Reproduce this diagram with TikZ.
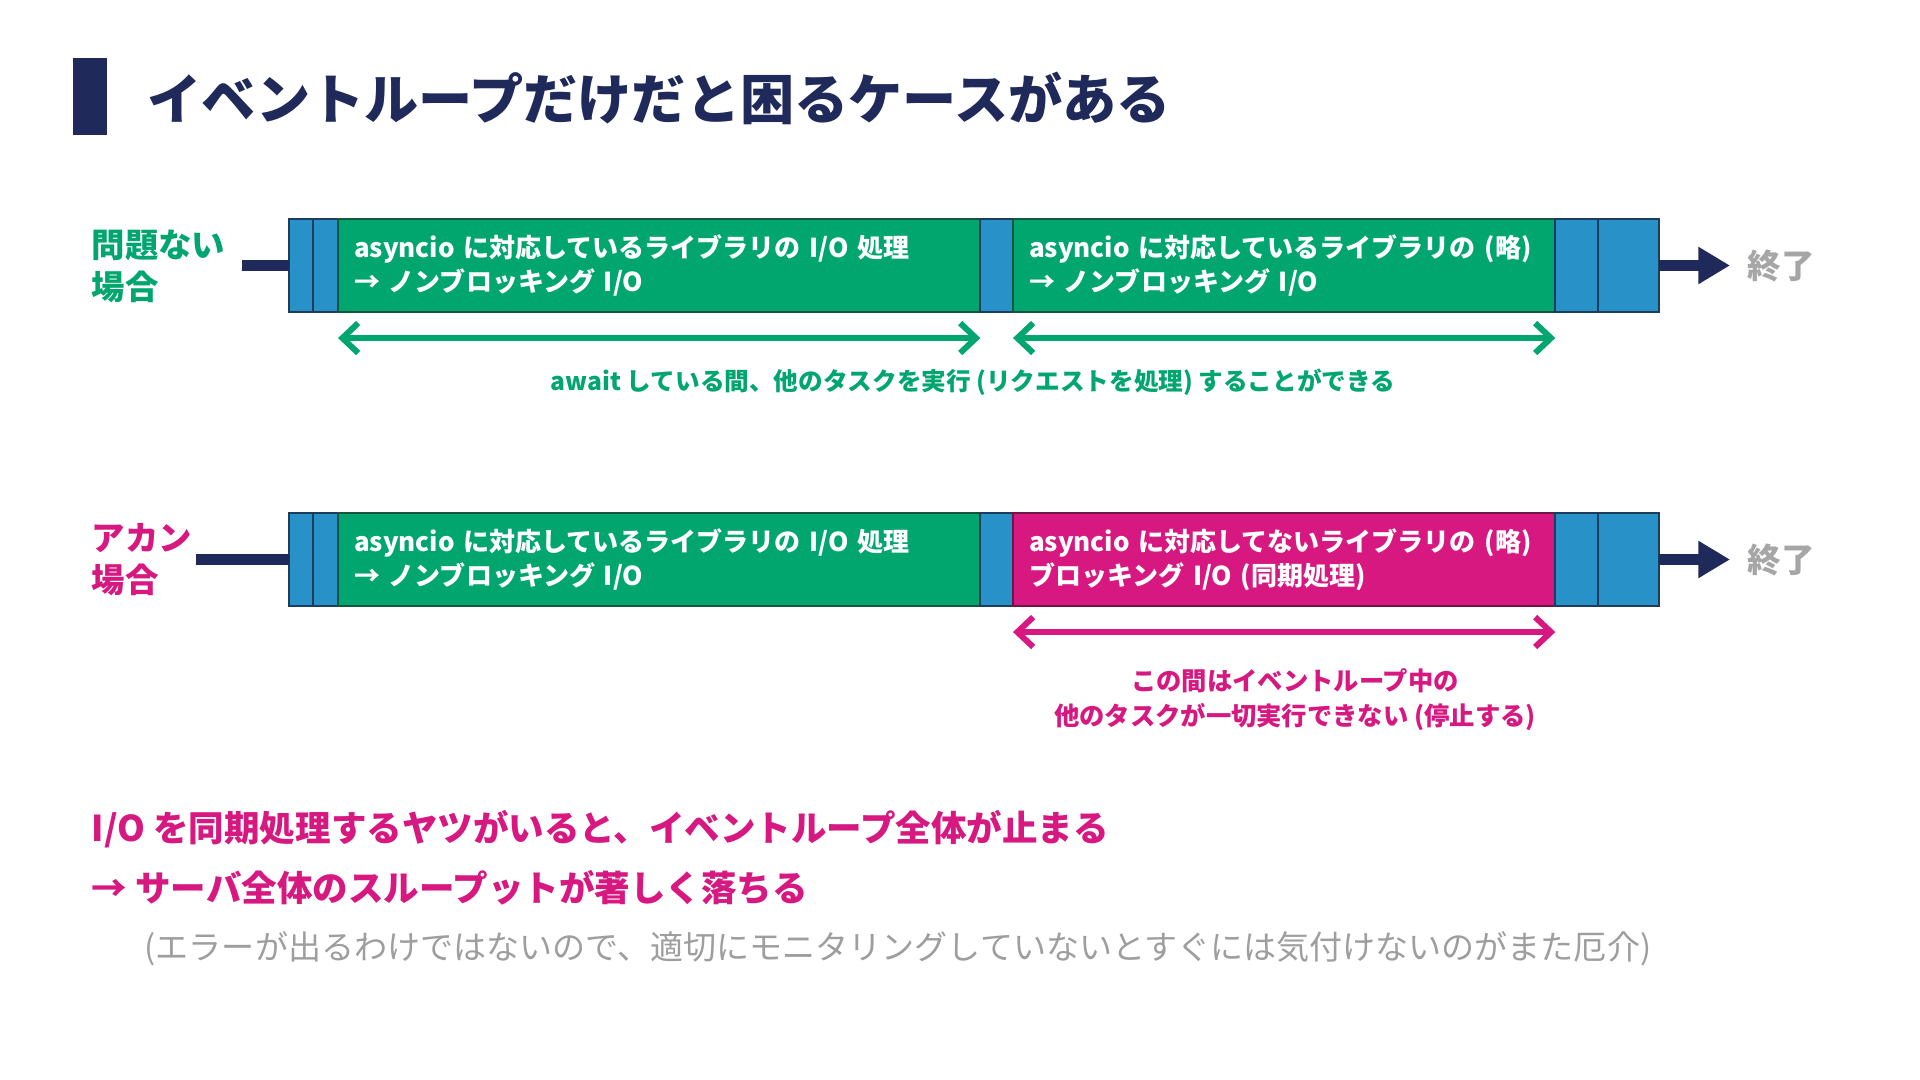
\documentclass[tikz,border=0pt]{standalone}
\usepackage{fontspec}
\setmainfont{Noto Sans CJK JP}
\usetikzlibrary{arrows.meta}

\definecolor{navy}{RGB}{31,42,91}
\definecolor{segblue}{RGB}{40,146,200}
\definecolor{segline}{RGB}{28,62,92}
\definecolor{okgreen}{RGB}{0,166,110}
\definecolor{okline}{RGB}{22,86,62}
\definecolor{ngpink}{RGB}{214,24,128}
\definecolor{ngline}{RGB}{112,20,70}
\definecolor{endgray}{RGB}{166,166,166}
\definecolor{notegray}{RGB}{158,158,158}

\tikzset{
  seg/.style={draw=segline, fill=segblue, line width=0.8pt, minimum height=0.93cm, inner sep=0pt, outer sep=0pt, anchor=north west},
  task/.style={seg, fill=okgreen, draw=okline, text=white, align=left, inner xsep=0.16cm, font=\fontsize{7.4}{9.7}\selectfont\bfseries},
  lab/.style={anchor=west, inner sep=0pt, align=left, font=\fontsize{9.5}{12}\selectfont\bfseries},
  wire/.style={draw=navy, line width=3pt},
  flow/.style={wire, -{Triangle[length=9pt,width=10pt]}},
  span/.style={line width=1.7pt, {Straight Barb[length=4.5pt,width=8.5pt]}-{Straight Barb[length=4.5pt,width=8.5pt]}},
  note/.style={inner sep=0pt, align=center, font=\fontsize{7}{10}\selectfont\bfseries},
  big/.style={anchor=west, inner sep=0pt, font=\fontsize{10.1}{12}\selectfont\bfseries}
}

\begin{document}
\begin{tikzpicture}[x=0.01cm, y=-0.01cm]
      \useasboundingbox[fill=white] (0,0) rectangle (1920,1080);
      % Title:
      \fill[navy] (73,58) rectangle (107,135);
      \node[anchor=west, inner sep=0pt, text=navy, font=\fontsize{15.4}{18}\selectfont\bfseries] (N0) at (147,98) {イベントループだけだと困るケースがある};
      % First row:
      \node[lab, text=okgreen] (N8) at (91,266) {問題ない\\場合};
      \node[seg, minimum width=0.24cm] (N1) at (289,219) {};
      \node[seg, minimum width=0.25cm] (N2) at (313,219) {};
      \node[task, text width=6.10cm] (N3) at (338,219) {asyncio に対応しているライブラリの I/O 処理\\→ ノンブロッキング I/O};
      \node[seg, minimum width=0.33cm] (N4) at (980,219) {};
      \node[task, text width=5.10cm] (N5) at (1013,219) {asyncio に対応しているライブラリの (略)\\→ ノンブロッキング I/O};
      \node[seg, minimum width=0.43cm] (N6) at (1555,219) {};
      \node[seg, minimum width=0.61cm] (N7) at (1598,219) {};
      \coordinate (C1) at (242,265.5);
      \coordinate (C2) at (1730,265.5);
      \draw[wire] (C1) -- (N1.west);
      \draw[flow] (N7.east) -- (C2);
      \node[lab, text=endgray] (N9) at (1747,266) {終了};
      \draw[span, okgreen] ([yshift=-0.26cm]N3.south west) -- ([yshift=-0.26cm]N3.south east);
      \draw[span, okgreen] ([yshift=-0.26cm]N5.south west) -- ([yshift=-0.26cm]N5.south east);
      \node[note, text=okgreen] (N10) at (973,382) {await している間、他のタスクを実行 (リクエストを処理) することができる};
      % Second row:
      \node[lab, text=ngpink] (N18) at (91,560) {アカン\\場合};
      \node[seg, minimum width=0.24cm] (N11) at (289,513) {};
      \node[seg, minimum width=0.25cm] (N12) at (313,513) {};
      \node[task, text width=6.10cm] (N13) at (338,513) {asyncio に対応しているライブラリの I/O 処理\\→ ノンブロッキング I/O};
      \node[seg, minimum width=0.33cm] (N14) at (980,513) {};
      \node[task, fill=ngpink, draw=ngline, text width=5.10cm] (N15) at (1013,513) {asyncio に対応してないライブラリの (略)\\ブロッキング I/O (同期処理)};
      \node[seg, minimum width=0.43cm] (N16) at (1555,513) {};
      \node[seg, minimum width=0.61cm] (N17) at (1598,513) {};
      \coordinate (C3) at (196,559.5);
      \coordinate (C4) at (1730,559.5);
      \draw[wire] (C3) -- (N11.west);
      \draw[flow] (N17.east) -- (C4);
      \node[lab, text=endgray] (N19) at (1747,560) {終了};
      \draw[span, ngpink] ([yshift=-0.26cm]N15.south west) -- ([yshift=-0.26cm]N15.south east);
      \node[note, text=ngpink, font=\fontsize{7.2}{10}\selectfont\bfseries] (N20) at (1295,700) {この間はイベントループ中の\\他のタスクが一切実行できない (停止する)};
      % Summary:
      \node[big, text=ngpink] (N21) at (91,829) {I/O を同期処理するヤツがいると、イベントループ全体が止まる};
      \node[big, text=ngpink] (N22) at (91,888) {→ サーバ全体のスループットが著しく落ちる};
      \node[big, text=notegray, font=\fontsize{9.4}{12}\selectfont\mdseries] (N23) at (144,949) {(エラーが出るわけではないので、適切にモニタリングしていないとすぐには気付けないのがまた厄介)};
\end{tikzpicture}
\end{document}
